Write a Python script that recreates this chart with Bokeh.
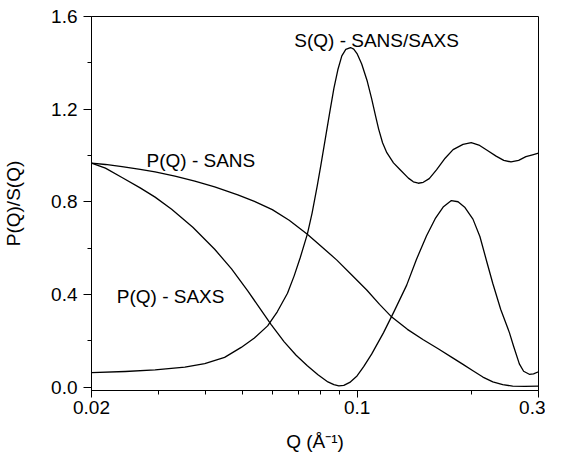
from bokeh.plotting import figure
from bokeh.models import Range1d, FixedTicker, PrintfTickFormatter, Label
from bokeh.embed import file_html
from bokeh.resources import INLINE

# ---- data ----
q_sans = [0.02, 0.02176, 0.02406, 0.02686, 0.0294, 0.03316, 0.0374, 0.04218, 0.04853,
          0.05366, 0.0598, 0.06624, 0.07395, 0.0808, 0.08843, 0.09678, 0.10612,
          0.11454, 0.12335, 0.13557, 0.14927, 0.16337, 0.1788, 0.18989, 0.20167,
          0.21418, 0.22747, 0.24157, 0.25656, 0.27578, 0.3]
p_sans = [0.967, 0.961, 0.952, 0.940, 0.929, 0.911, 0.889, 0.864, 0.830,
          0.802, 0.766, 0.720, 0.660, 0.605, 0.548, 0.484, 0.418,
          0.357, 0.302, 0.249, 0.204, 0.165, 0.125, 0.098, 0.070,
          0.043, 0.022, 0.010, 0.004, 0.003, 0.004]

q_saxs = [0.02, 0.02176, 0.02406, 0.02686, 0.0294, 0.0325, 0.03695, 0.04218, 0.04672,
          0.05154, 0.0553, 0.05933, 0.06428, 0.06909, 0.07395, 0.07887, 0.08376,
          0.08685, 0.0895, 0.09223, 0.09562, 0.09992, 0.10403, 0.10916, 0.11734,
          0.12537, 0.135, 0.14311, 0.15226, 0.16044, 0.16836, 0.17698, 0.18426,
          0.19219, 0.20167, 0.21034, 0.2194, 0.22747, 0.23865, 0.25151, 0.25811,
          0.26711, 0.27413, 0.2837, 0.29113, 0.3]
p_saxs = [0.967, 0.945, 0.905, 0.860, 0.820, 0.768, 0.690, 0.595, 0.510,
          0.415, 0.343, 0.271, 0.195, 0.137, 0.092, 0.053, 0.022,
          0.010, 0.005, 0.007, 0.020, 0.048, 0.088, 0.142, 0.235,
          0.330, 0.440, 0.550, 0.653, 0.727, 0.777, 0.805, 0.800,
          0.775, 0.725, 0.650, 0.540, 0.447, 0.335, 0.235, 0.175,
          0.100, 0.068, 0.055, 0.057, 0.066]

q_sq = [0.02, 0.02454, 0.0294, 0.03521, 0.03972, 0.0448, 0.04953, 0.05366, 0.05813,
        0.06163, 0.06557, 0.06827, 0.07078, 0.07395, 0.07608, 0.07854, 0.08031,
        0.08261, 0.08478, 0.08685, 0.08896, 0.09113, 0.09335, 0.09603, 0.09795,
        0.09992, 0.10279, 0.10612, 0.10916, 0.11182, 0.11386, 0.11663, 0.11969,
        0.12461, 0.12974, 0.13639, 0.14055, 0.14485, 0.14927, 0.15476, 0.1617,
        0.1704, 0.1788, 0.18989, 0.19962, 0.20908, 0.22072, 0.23203, 0.24303,
        0.25395, 0.266, 0.27795, 0.28938, 0.3]
s_q = [0.062, 0.067, 0.074, 0.086, 0.101, 0.128, 0.171, 0.212, 0.264,
       0.325, 0.405, 0.480, 0.557, 0.660, 0.750, 0.870, 0.960,
       1.080, 1.190, 1.290, 1.370, 1.430, 1.458, 1.466, 1.459,
       1.440, 1.395, 1.325, 1.245, 1.170, 1.115, 1.055, 1.012,
       0.968, 0.938, 0.902, 0.886, 0.880, 0.884, 0.900, 0.938,
       0.988, 1.025, 1.048, 1.055, 1.045, 1.020, 0.997, 0.979,
       0.972, 0.979, 0.995, 1.003, 1.010]

x_ticks = [0.02, 0.1, 0.3]
x_minor = [0.03, 0.04, 0.05, 0.06, 0.07, 0.08, 0.09, 0.2]
y_ticks = [0.0, 0.4, 0.8, 1.2, 1.6]
y_minor = [0.2, 0.6, 1.0, 1.4]

labels = [("S(Q) - SANS/SAXS", 0.1125, 1.496),
          ("P(Q) - SANS", 0.0388, 0.977),
          ("P(Q) - SAXS", 0.0323, 0.391)]

FONT = "Liberation Sans"
FS = "19px"

p = figure(width=545, height=458, x_axis_type="log",
           x_range=Range1d(0.02, 0.3), y_range=Range1d(-0.015, 1.6),
           output_backend="svg", toolbar_location=None, title=None,
           min_border_left=88, min_border_right=7, min_border_top=16,
           min_border_bottom=68)
p.background_fill_color = "white"
p.border_fill_color = "white"
p.grid.visible = False
p.outline_line_color = "black"
p.outline_line_width = 1

for q, v in [(q_sans, p_sans), (q_saxs, p_saxs), (q_sq, s_q)]:
    p.line(q, v, line_color="black", line_width=1.3, line_join="round")

xa = p.xaxis[0]
xa.ticker = FixedTicker(ticks=x_ticks, minor_ticks=x_minor)
xa.formatter = PrintfTickFormatter(format="%.2g")
xa.axis_label = "Q (Å⁻¹)"
xa.major_tick_out = 7
xa.major_tick_in = 0
xa.minor_tick_out = 4
xa.minor_tick_in = 0
xa.major_label_standoff = 3
xa.axis_label_standoff = 14

ya = p.yaxis[0]
ya.ticker = FixedTicker(ticks=y_ticks, minor_ticks=y_minor)
ya.formatter = PrintfTickFormatter(format="%.1f")
ya.axis_label = "P(Q)/S(Q)"
ya.major_tick_out = 8
ya.major_tick_in = 0
ya.minor_tick_out = 4
ya.minor_tick_in = 0
ya.major_label_standoff = 6
ya.axis_label_standoff = 24

for ax in (xa, ya):
    ax.axis_line_color = "black"
    ax.major_tick_line_color = "black"
    ax.minor_tick_line_color = "black"
    ax.major_label_text_font = FONT
    ax.major_label_text_font_size = FS
    ax.major_label_text_color = "black"
    ax.axis_label_text_font = FONT
    ax.axis_label_text_font_size = FS
    ax.axis_label_text_font_style = "normal"
    ax.axis_label_text_color = "black"

for txt, x, y in labels:
    p.add_layout(Label(x=x, y=y, text=txt, text_align="center",
                       text_baseline="alphabetic", text_font=FONT,
                       text_font_size=FS, text_color="black"))

open("out.html", "w").write(file_html(p, INLINE))
